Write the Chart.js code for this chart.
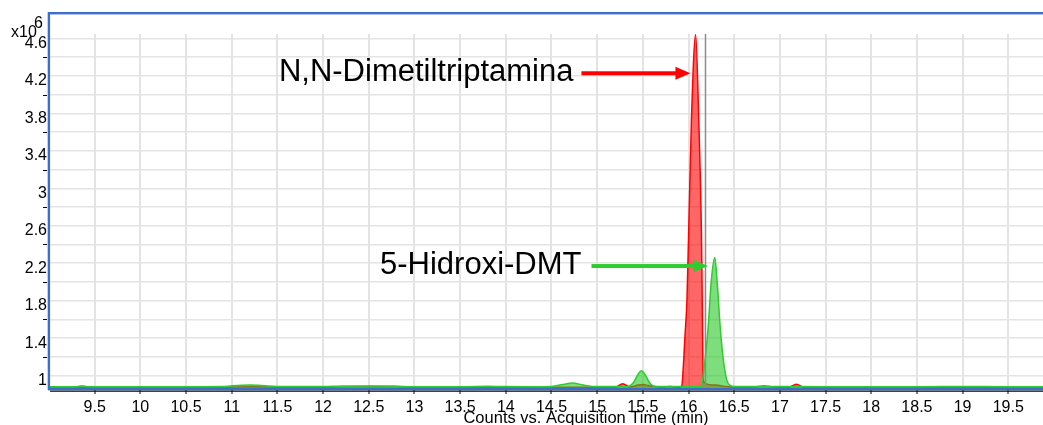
<!DOCTYPE html>
<html>
<head>
<meta charset="utf-8">
<script src="https://cdn.jsdelivr.net/npm/chart.js@4"></script>
<style>
html,body{margin:0;padding:0;background:#fff;overflow:hidden;}
#wrap{width:1043px;height:425px;}
</style>
</head>
<body>
<div id="wrap"><canvas id="c" width="1043" height="425"></canvas></div>
<script>
// ---- data (retention time in min, counts in x10^6) ----
const dmtTimes = [9.0, 9.4, 10.0, 10.5, 10.9, 11.2, 11.6, 12.0, 12.2, 12.5, 12.8, 13.0, 13.5, 14.0, 14.5, 15.0, 15.2, 15.28, 15.36, 15.45, 15.5, 15.56, 15.7, 15.8, 15.9, 15.926, 15.937, 15.96, 15.983, 16.002, 16.032, 16.078, 16.112, 16.141, 16.150, 16.159, 16.17, 16.20, 16.30, 16.40, 16.5, 16.7, 16.83, 16.95, 17.1, 17.18, 17.26, 17.5, 18.0, 18.5, 19.0, 19.5, 19.9];
const dmtValues = [0.876, 0.876, 0.876, 0.876, 0.877, 0.881, 0.877, 0.877, 0.884, 0.886, 0.884, 0.877, 0.877, 0.877, 0.878, 0.877, 0.878, 0.915, 0.88, 0.9, 0.905, 0.895, 0.878, 0.884, 0.877, 0.89, 1.0, 1.4, 1.81, 2.55, 3.73, 4.64, 3.73, 2.55, 1.81, 1.0, 0.93, 0.91, 0.9, 0.885, 0.877, 0.877, 0.89, 0.877, 0.878, 0.91, 0.878, 0.876, 0.876, 0.876, 0.876, 0.876, 0.876];
const hdmtTimes = [9.0, 9.3, 9.36, 9.42, 10.0, 10.5, 10.9, 11.0, 11.2, 11.4, 11.6, 12.0, 12.2, 12.5, 12.8, 13.0, 13.5, 13.8, 14.0, 14.3, 14.5, 14.62, 14.73, 14.85, 15.0, 15.33, 15.40, 15.45, 15.485, 15.52, 15.57, 15.63, 15.8, 16.0, 16.10, 16.141, 16.177, 16.213, 16.25, 16.287, 16.312, 16.349, 16.385, 16.42, 16.451, 16.51, 17.0, 17.5, 18.0, 18.5, 19.0, 19.5, 19.9];
const hdmtValues = [0.883, 0.883, 0.892, 0.883, 0.883, 0.883, 0.884, 0.892, 0.9, 0.891, 0.884, 0.884, 0.888, 0.889, 0.887, 0.883, 0.883, 0.887, 0.884, 0.883, 0.885, 0.905, 0.922, 0.9, 0.884, 0.885, 0.93, 1.02, 1.053, 1.02, 0.93, 0.885, 0.884, 0.883, 0.883, 0.89, 1.14, 1.49, 2.02, 2.26, 2.02, 1.49, 1.14, 0.95, 0.9, 0.885, 0.884, 0.883, 0.883, 0.883, 0.884, 0.883, 0.883];
const xTickValues = [9.5, 10, 10.5, 11, 11.5, 12, 12.5, 13, 13.5, 14, 14.5, 15, 15.5, 16, 16.5, 17, 17.5, 18, 18.5, 19, 19.5];
const yGridValues = [1.0, 1.2, 1.4, 1.6, 1.8, 2.0, 2.2, 2.4, 2.6, 2.8, 3.0, 3.2, 3.4, 3.6, 3.8, 4.0, 4.2, 4.4, 4.6];
const yLabelValues = [1, 1.4, 1.8, 2.2, 2.6, 3, 3.4, 3.8, 4.2, 4.6];
const markerTime = 16.177;
const labels = [
  {text: 'N,N-Dimetiltriptamina', color: '#ff0000', tailT: 14.828, tipT: 16.021, yVal: 4.227},
  {text: '5-Hidroxi-DMT', color: '#2ecc2e', tailT: 14.938, tipT: 16.213, yVal: 2.17}
];
const axisTitle = 'Counts vs. Acquisition Time (min)';

const FONT = '"Liberation Sans", Arial, sans-serif';
const toPts = (ts, vs) => ts.map((t, i) => ({x: t, y: vs[i]}));

const overlay = {
  id: 'overlay',
  afterDatasetsDraw(chart) {
    const {ctx, chartArea: a, scales: {x, y}} = chart;
    ctx.save();
    // marker line
    const mx = Math.round(x.getPixelForValue(markerTime)) + 0.5;
    ctx.strokeStyle = '#8c8c8c';
    ctx.lineWidth = 1.5;
    ctx.beginPath(); ctx.moveTo(mx, a.top); ctx.lineTo(mx, a.bottom); ctx.stroke();
    // annotations
    labels.forEach((l, k) => {
      const x0 = x.getPixelForValue(l.tailT);
      const x1 = x.getPixelForValue(l.tipT);
      const yy = y.getPixelForValue(l.yVal);
      ctx.fillStyle = l.color;
      ctx.fillRect(x0, yy - 2, (x1 - 14) - x0, 4);
      ctx.beginPath();
      ctx.moveTo(x1, yy); ctx.lineTo(x1 - 15, yy - 6.5); ctx.lineTo(x1 - 15, yy + 6.5); ctx.closePath(); ctx.fill();
      ctx.fillStyle = '#000';
      ctx.font = '31px ' + FONT;
      ctx.textAlign = 'right';
      ctx.textBaseline = 'alphabetic';
      ctx.fillText(l.text, x0 - (k === 0 ? 8 : 10), yy + 7.6);
    });
    ctx.restore();
  },
  afterDraw(chart) {
    const {ctx, chartArea: a, scales: {y}} = chart;
    ctx.save();
    // minor y tick dashes
    ctx.strokeStyle = '#000';
    ctx.lineWidth = 1;
    yGridValues.forEach((v, i) => {
      if (i % 2 === 1) {
        const py = Math.round(y.getPixelForValue(v)) + 0.5;
        ctx.beginPath(); ctx.moveTo(43, py); ctx.lineTo(47, py); ctx.stroke();
      }
    });
    // frame
    ctx.fillStyle = '#3b6fc9';
    ctx.fillRect(48, 12, 1043 - 48, 2.4);
    ctx.fillRect(47.7, 12, 2.4, a.bottom - 12 + 1);
    ctx.fillRect(48, a.bottom - 1, 1043 - 48, 2.4);
    ctx.fillStyle = '#111';
    ctx.fillRect(50, a.bottom + 1.6, 1043 - 50, 1.2);
    // x10^6
    ctx.fillStyle = '#000';
    ctx.font = '16px ' + FONT;
    ctx.textAlign = 'left';
    ctx.textBaseline = 'alphabetic';
    ctx.fillText('x10', 11, 37);
    ctx.fillText('6', 34, 28);
    // axis title
    ctx.textAlign = 'center';
    ctx.font = '16.5px ' + FONT;
    ctx.fillText(axisTitle, 586, 423);
    ctx.restore();
  }
};

new Chart(document.getElementById('c'), {
  type: 'line',
  data: {
    datasets: [
      {
        label: '5-Hidroxi-DMT',
        data: toPts(hdmtTimes, hdmtValues),
        borderColor: '#2ecc2e',
        backgroundColor: 'rgba(40,200,40,0.6)',
        borderWidth: 1.5,
        fill: 'start',
        pointRadius: 0,
        cubicInterpolationMode: 'monotone'
      },
      {
        label: 'N,N-Dimetiltriptamina',
        data: toPts(dmtTimes, dmtValues),
        borderColor: '#ff0000',
        backgroundColor: 'rgba(255,0,0,0.6)',
        borderWidth: 1.5,
        fill: 'start',
        pointRadius: 0,
        cubicInterpolationMode: 'monotone'
      }
    ]
  },
  options: {
    responsive: false,
    animation: false,
    events: [],
    layout: {padding: {top: 34, right: 0, left: 0, bottom: 0}},
    plugins: {legend: {display: false}, tooltip: {enabled: false}, title: {display: false}},
    scales: {
      x: {
        type: 'linear',
        min: 9.0,
        max: 19.88,
        afterFit(s) { s.height = 36; },
        afterBuildTicks(s) { s.ticks = xTickValues.map(v => ({value: v})); },
        ticks: {
          autoSkip: false, maxRotation: 0, color: '#000', padding: 4,
          font: {size: 16, family: FONT},
          callback: v => String(Math.round(v * 10) / 10)
        },
        grid: {color: '#e4e4e4', lineWidth: 2, tickColor: '#000', tickLength: 5, tickWidth: 1},
        border: {display: false}
      },
      y: {
        type: 'linear',
        min: 0.858,
        max: 4.646,
        afterFit(s) { s.width = 49; },
        afterBuildTicks(s) { s.ticks = yGridValues.map(v => ({value: v})); },
        ticks: {
          autoSkip: false, color: '#000', padding: 2, labelOffset: 5,
          font: {size: 16, family: FONT},
          callback: v => {
            const r = Math.round(v * 10) / 10;
            return yLabelValues.includes(r) ? String(r) : '';
          }
        },
        grid: {color: '#e4e4e4', lineWidth: 1.5, drawTicks: false},
        border: {display: false}
      }
    }
  },
  plugins: [overlay]
});
</script>
</body>
</html>
